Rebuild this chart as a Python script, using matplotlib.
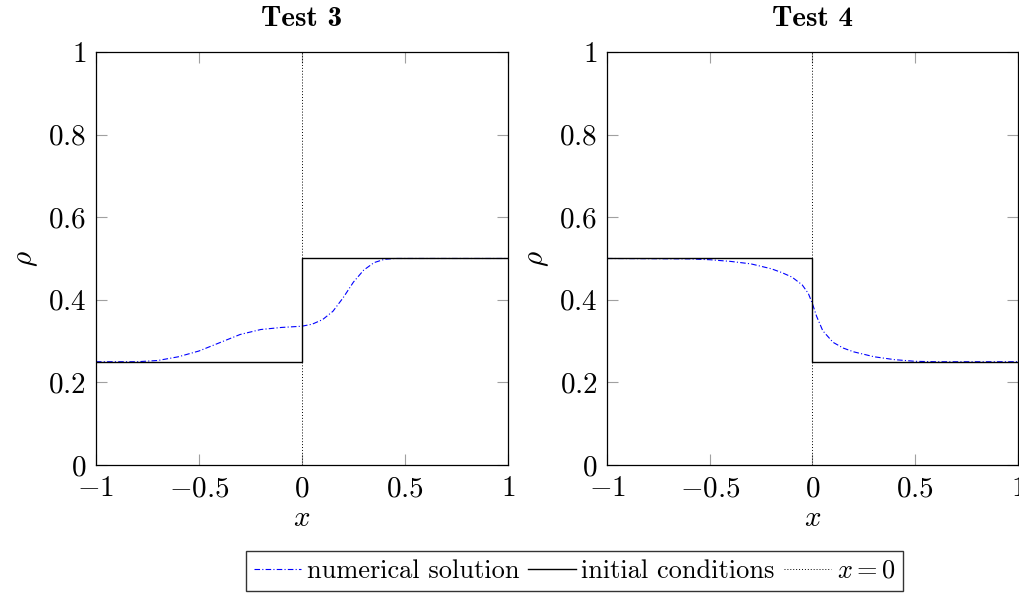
import numpy as np
import matplotlib
matplotlib.use("Agg")
import matplotlib.pyplot as plt

plt.rcParams["font.family"] = "cmr10"
plt.rcParams["mathtext.fontset"] = "cm"
plt.rcParams["axes.unicode_minus"] = False

# values
x3 = [-1, -0.8, -0.7, -0.6, -0.5, -0.4, -0.3, -0.2, -0.1, 0, 0.05, 0.1,
      0.15, 0.2, 0.25, 0.3, 0.35, 0.4, 0.45, 0.5, 1]
rho3 = [0.25, 0.25, 0.253, 0.262, 0.276, 0.296, 0.316, 0.328, 0.333, 0.336,
        0.341, 0.352, 0.372, 0.405, 0.443, 0.472, 0.490, 0.498, 0.5, 0.5, 0.5]

x4 = [-1, -0.6, -0.5, -0.4, -0.3, -0.2, -0.15, -0.1, -0.05, -0.02, 0, 0.02,
      0.05, 0.1, 0.15, 0.2, 0.3, 0.4, 0.5, 0.6, 1]
rho4 = [0.5, 0.499, 0.497, 0.493, 0.487, 0.475, 0.466, 0.455, 0.436, 0.415,
        0.39, 0.36, 0.325, 0.297, 0.283, 0.274, 0.262, 0.255, 0.251, 0.25, 0.25]

x_init = [-1, 0, 0, 1]
init3 = [0.25, 0.25, 0.5, 0.5]
init4 = [0.5, 0.5, 0.25, 0.25]

titles = ["Test 3", "Test 4"]
xticks = [-1, -0.5, 0, 0.5, 1]
xticklabels = [r"$-1$", r"$-0.5$", r"$0$", r"$0.5$", r"$1$"]
yticks = [0, 0.2, 0.4, 0.6, 0.8, 1]
yticklabels = [r"$0$", r"$0.2$", r"$0.4$", r"$0.6$", r"$0.8$", r"$1$"]

fs = 21
fig = plt.figure(figsize=(10.19, 5.94), dpi=100)
axes = [fig.add_axes([0.0942, 0.2172, 0.4043, 0.6953]),
        fig.add_axes([0.5957, 0.2172, 0.4033, 0.6953])]

data = [(x3, rho3, init3), (x4, rho4, init4)]
for ax, title, (xs, ys, init) in zip(axes, titles, data):
    ax.plot(xs, ys, color="blue", lw=0.8, ls=(0, (5, 2, 1, 2)),
            label="numerical solution")
    ax.plot(x_init, init, color="black", lw=1.0, label="initial conditions")
    ax.axvline(0, color="black", lw=0.7, ls=(0, (1, 2)), label=r"$x=0$")
    ax.set_xlim(-1, 1)
    ax.set_ylim(0, 1)
    ax.set_xticks(xticks, xticklabels)
    ax.set_yticks(yticks, yticklabels)
    ax.tick_params(direction="in", length=8, width=0.8, color="#a0a0a0",
                   top=True, right=True, labelsize=fs)
    ax.tick_params(axis="x", pad=8)
    ax.tick_params(axis="y", pad=7)
    for s in ax.spines.values():
        s.set_linewidth(0.9)
    ax.set_xlabel(r"$x$", fontsize=fs, labelpad=2)
    ax.set_ylabel(r"$\rho$", fontsize=fs, labelpad=6)
    ax.set_title(title, fontsize=fs, family="cmb10", pad=19)

handles, labels = axes[0].get_legend_handles_labels()
fig.legend(handles, labels, loc="center", bbox_to_anchor=(0.564, 0.0387),
           ncol=3, fontsize=19, frameon=True, fancybox=False,
           edgecolor="black", handlelength=1.8, handletextpad=0.2,
           columnspacing=0.35, borderpad=0.3, borderaxespad=0)

fig.savefig("out.png", dpi=100)
